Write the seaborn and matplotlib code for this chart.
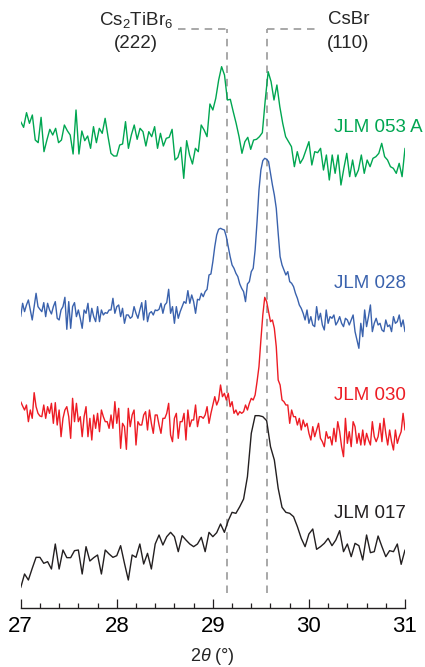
import numpy as np
import pandas as pd
import matplotlib
matplotlib.use("Agg")
import matplotlib.pyplot as plt
import seaborn as sns

# ---------------------------------------------------------------------------
# XRD scans, 2θ = 27–31°, intensities in arbitrary counts
# ---------------------------------------------------------------------------
two_theta_053A = np.linspace(27.0, 31.0, 133)
counts_053A = [
    235, 218, 262, 230, 255, 180, 172, 248, 145, 180,
    212, 195, 215, 172, 180, 225, 208, 195, 138, 270,
    138, 207, 178, 192, 155, 220, 172, 215, 200, 245,
    190, 140, 132, 132, 165, 168, 235, 155, 195, 225,
    182, 215, 205, 162, 205, 190, 220, 155, 200, 162,
    185, 188, 212, 120, 128, 158, 65, 178, 135, 108,
    155, 145, 225, 210, 190, 288, 270, 305, 360, 400,
    375, 300, 302, 265, 230, 190, 140, 175, 188, 152,
    180, 182, 190, 202, 300, 385,
    355, 300, 345, 280, 230, 190, 175, 160, 100, 145,
    110, 125, 150, 175, 105, 145, 142, 155, 90, 135,
    60, 135, 80, 135, 45, 95, 140, 70, 120, 70,
    90, 135, 80, 120, 100, 125, 130, 140, 170, 130,
    120, 100, 95, 80, 110, 70, 155,
]

two_theta_028 = np.linspace(27.0, 31.0, 201)
counts_028 = [
    170, 210, 185, 205, 220, 190, 160, 200, 240, 200,
    192, 185, 212, 170, 210, 190, 178, 200, 215, 165,
    160, 190, 200, 228, 132, 215, 135, 200, 212, 170,
    190, 165, 135, 190, 180, 210, 155, 195, 170, 155,
    200, 155, 190, 175, 182, 180, 190, 190, 225, 180,
    200, 205, 170, 195, 150, 175, 175, 165, 170, 200,
    180, 165, 190, 212, 160, 218, 155, 180, 185, 175,
    190, 188, 192, 210, 180, 205, 212, 252, 180, 200,
    150, 200, 165, 185, 200, 215, 210, 248, 210, 235,
    215, 180, 222, 220, 240, 230, 245, 252, 295, 298,
    335, 380, 415, 432, 435, 432, 430, 410, 380, 350,
    325, 315, 300, 290, 268, 255, 245, 215, 268, 275,
    305, 315, 370, 455, 550, 610, 638, 645, 642, 635,
    600, 565, 535, 495, 420, 350, 325, 310, 295, 305,
    275, 270, 260, 240, 225, 205,
    195, 180, 160, 190, 150, 170, 145, 140, 200, 160,
    180, 145, 130, 190, 150, 170, 165, 175, 145, 155,
    170, 150, 140, 165, 160, 145, 160, 175, 125, 100,
    75, 150, 110, 190, 140, 170, 205, 125, 150, 165,
    145, 150, 130, 125, 160, 140, 145, 125, 170, 150,
    155, 175, 140, 160, 125,
]

two_theta_030 = np.linspace(27.0, 31.0, 201)
counts_030 = [
    235, 222, 210, 225, 175, 210, 185, 262, 220, 200,
    192, 190, 225, 185, 220, 200, 230, 170, 232, 165,
    210, 130, 185, 210, 220, 190, 125, 245, 175, 230,
    175, 190, 130, 190, 220, 130, 185, 120, 195, 155,
    200, 145, 210, 190, 175, 175, 155, 195, 155, 235,
    170, 215, 95, 170, 160, 92, 215, 160, 195, 210,
    105, 175, 165, 165, 195, 205, 150, 210, 170, 140,
    195, 195, 165, 140, 185, 185, 200, 230, 135, 115,
    185, 200, 125, 175, 175, 200, 120, 210, 160, 180,
    180, 225, 160, 190, 190, 185, 195, 220, 170, 200,
    225, 250, 225, 240, 285, 250, 260, 240, 260, 220,
    235, 200, 210, 195, 205, 200, 205, 225, 210, 230,
    245, 240, 255, 295, 340, 420, 495, 548, 535, 505,
    475, 480, 455, 400, 300, 285, 240, 235, 225, 225,
    170, 210, 190, 190, 165, 185, 150, 180, 160, 170,
    140, 120, 160, 130, 150, 170, 125, 115, 100, 145,
    125, 130, 105, 155, 115, 175, 145, 100, 70, 185,
    110, 145, 100, 175, 160, 110, 140, 105, 150, 105,
    140, 120, 105, 175, 130, 115, 130, 170, 115, 185,
    140, 105, 150, 115, 90, 150, 110, 130, 145, 200,
    150,
]

two_theta_017 = np.linspace(27.0, 31.0, 101)
counts_017 = [
    37, 78, 60, 95, 128, 128, 110, 115, 93, 168,
    93, 150, 127, 127, 148, 150, 78, 160, 117, 127,
    135, 78, 150, 138, 128, 133, 163, 110, 60, 135,
    128, 168, 108, 140, 93, 168, 195, 165, 190, 203,
    190, 145, 193, 180, 168, 160, 168, 188, 145, 203,
    190, 202, 228, 203, 238, 263, 260, 280, 303, 370,
    500, 553, 553, 550, 538, 460, 420, 335, 278, 263,
    260, 250, 220, 185, 160, 198, 213, 152, 160, 170,
    185, 163, 180, 208, 145, 168, 130, 170, 163, 120,
    195, 142, 145, 192, 160, 130, 148, 145, 168, 107,
    150,
]

samples = ["JLM 053 A", "JLM 028", "JLM 030", "JLM 017"]

# Reference reflections (2θ, degrees)
ref_names = ["Cs$_2$TiBr$_6$", "CsBr"]
ref_hkl = ["(222)", "(110)"]
ref_positions = [29.15, 29.56]

# ---------------------------------------------------------------------------
# Styling
# ---------------------------------------------------------------------------
sns.set_style("white")
plt.rcParams["font.family"] = ["Liberation Sans", "DejaVu Sans"]
plt.rcParams["mathtext.fontset"] = "custom"
plt.rcParams["mathtext.rm"] = "Liberation Sans"
plt.rcParams["mathtext.it"] = "Liberation Sans:italic"

colors = {
    "JLM 053 A": "#00a651",
    "JLM 028": "#3a62ad",
    "JLM 030": "#ed1c24",
    "JLM 017": "#231f20",
}
offsets = {"JLM 053 A": 408.0, "JLM 028": 234.7, "JLM 030": 128.0, "JLM 017": 8.0}
scale = 1.0 / 3.0
label_y = {"JLM 053 A": 481, "JLM 028": 325, "JLM 030": 213, "JLM 017": 95}

scans = {
    "JLM 053 A": (two_theta_053A, counts_053A),
    "JLM 028": (two_theta_028, counts_028),
    "JLM 030": (two_theta_030, counts_030),
    "JLM 017": (two_theta_017, counts_017),
}

frames = []
for name in samples:
    tt, cc = scans[name]
    frames.append(pd.DataFrame({
        "two_theta": tt,
        "signal": offsets[name] + np.asarray(cc, dtype=float) * scale,
        "sample": name,
    }))
df = pd.concat(frames, ignore_index=True)

fig = plt.figure(figsize=(4.25, 6.67), dpi=100)
ax = fig.add_axes([20.7 / 425, 59 / 667, 384.3 / 425, 608 / 667])

sns.lineplot(data=df, x="two_theta", y="signal", hue="sample",
             palette=colors, estimator=None, sort=True, linewidth=1.0,
             legend=False, ax=ax)

# Reference reflection markers with bracket-style dashed leaders
dash_kw = dict(color="#9a9a9a", linewidth=1.2, linestyle=(0, (4.5, 3.5)), zorder=0)
top_y = 579
ax.plot([ref_positions[0], ref_positions[0]], [15, top_y], **dash_kw)
ax.plot([28.64, ref_positions[0]], [top_y, top_y], **dash_kw)
ax.plot([ref_positions[1], ref_positions[1]], [15, top_y], **dash_kw)
ax.plot([ref_positions[1], 30.08], [top_y, top_y], **dash_kw)

for xpos, nm, hkl in zip([28.20, 30.41], ref_names, ref_hkl):
    ax.text(xpos, 588, nm, ha="center", va="center", fontsize=13.5)
    ax.text(xpos, 565, hkl, ha="center", va="center", fontsize=13.5)

for name in samples:
    ax.text(30.264, label_y[name], name, ha="left", va="center",
            fontsize=13.5, color=colors[name])

ax.set_xlim(27, 31)
ax.set_ylim(0, 608)
ax.set_xticks([27, 28, 29, 30, 31])
ax.set_xticks(np.arange(27, 31.01, 0.2), minor=True)
ax.set_yticks([])
ax.set_ylabel("")
ax.set_xlabel("2$\\mathit{\\theta}$ (°)", fontsize=13, labelpad=6)

for side in ["left", "right", "top"]:
    ax.spines[side].set_visible(False)
ax.spines["bottom"].set_linewidth(1.0)
ax.spines["bottom"].set_color("#231f20")
ax.tick_params(axis="x", which="both", bottom=True, top=False)
ax.tick_params(axis="x", which="major", direction="in", length=6.5,
               width=0.9, labelsize=16, pad=6, colors="#231f20",
               labelcolor="black")
ax.tick_params(axis="x", which="minor", direction="in", length=3.5,
               width=0.9, colors="#231f20")

fig.savefig("out.png", dpi=100, facecolor="white")
